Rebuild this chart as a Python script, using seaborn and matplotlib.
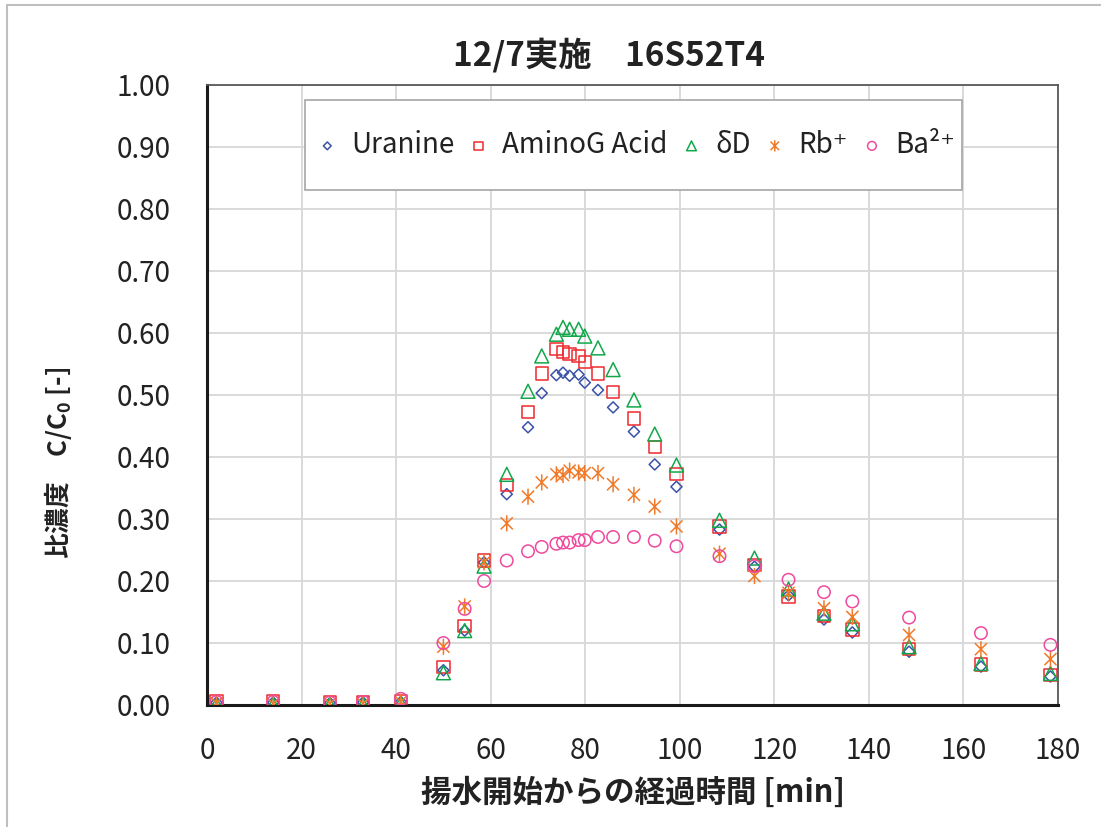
import numpy as np
import pandas as pd
import matplotlib
matplotlib.use("Agg")
import matplotlib.pyplot as plt
from matplotlib.path import Path
from matplotlib.patches import Rectangle
from matplotlib.ticker import MultipleLocator, FormatStrFormatter
import seaborn as sns

# elapsed pumping time [min]
time_min = [2, 14, 26, 33, 41, 50, 54.5, 58.6, 63.4, 67.9, 70.8, 73.9, 75.3, 76.7,
            78.6, 79.9, 82.7, 85.9, 90.3, 94.7, 99.3, 108.4, 115.8, 123.0, 130.5,
            136.5, 148.5, 163.7, 178.4]

# relative concentration C/C0 of each tracer
uranine = [0.004, 0.004, 0.003, 0.004, 0.005, 0.056, 0.120, 0.230, 0.340, 0.448,
           0.503, 0.532, 0.536, 0.531, 0.533, 0.520, 0.508, 0.480, 0.441, 0.388,
           0.352, 0.283, 0.223, 0.177, 0.138, 0.117, 0.086, 0.062, 0.046]
amino_g = [0.006, 0.006, 0.005, 0.005, 0.006, 0.061, 0.127, 0.233, 0.355, 0.473,
           0.535, 0.574, 0.569, 0.566, 0.563, 0.553, 0.535, 0.505, 0.462, 0.416,
           0.373, 0.288, 0.226, 0.175, 0.144, 0.122, 0.090, 0.065, 0.048]
delta_d = [0.001, 0.001, 0.001, 0.001, 0.003, 0.052, 0.120, 0.224, 0.372, 0.506,
           0.563, 0.598, 0.609, 0.606, 0.606, 0.595, 0.576, 0.541, 0.492, 0.437,
           0.387, 0.298, 0.237, 0.187, 0.148, 0.131, 0.094, 0.067, 0.051]
rb = [0.003, 0.002, 0.002, 0.002, 0.005, 0.094, 0.159, 0.230, 0.293, 0.336,
      0.359, 0.372, 0.371, 0.378, 0.375, 0.374, 0.374, 0.356, 0.339, 0.320,
      0.288, 0.244, 0.208, 0.181, 0.156, 0.142, 0.113, 0.090, 0.074]
ba = [0.005, 0.005, 0.004, 0.005, 0.010, 0.100, 0.155, 0.200, 0.233, 0.248,
      0.255, 0.260, 0.262, 0.262, 0.266, 0.266, 0.271, 0.271, 0.271, 0.265,
      0.256, 0.240, 0.224, 0.202, 0.182, 0.167, 0.141, 0.116, 0.097]

series_names = ["Uranine", "AminoG Acid", "δD", "Rb⁺", "Ba²⁺"]
series_values = [uranine, amino_g, delta_d, rb, ba]

title_text = "12/7実施　16S52T4"
xlabel_text = "揚水開始からの経過時間 [min]"
ylabel_text = r"比濃度　C/C$_\mathbf{0}$ [-]"

# long-format table for seaborn
df = pd.concat(
    [pd.DataFrame({"time": time_min, "ratio": vals, "tracer": name})
     for name, vals in zip(series_names, series_values)],
    ignore_index=True,
)

sns.set_style("white")
plt.rcParams["font.family"] = ["Noto Sans CJK JP", "DejaVu Sans"]
plt.rcParams["mathtext.fontset"] = "custom"
plt.rcParams["mathtext.rm"] = "Noto Sans CJK JP"
plt.rcParams["mathtext.bf"] = "Noto Sans CJK JP:bold"

# asterisk marker: vertical bar plus an X
star = Path([(0, -1), (0, 1), (-0.75, -0.75), (0.75, 0.75), (-0.75, 0.75), (0.75, -0.75)],
            [Path.MOVETO, Path.LINETO, Path.MOVETO, Path.LINETO, Path.MOVETO, Path.LINETO])

styles = {
    "Uranine": dict(color="#3A52A8", marker="D", s=32),
    "AminoG Acid": dict(color="#EE2A2E", marker="s", s=80),
    "δD": dict(color="#12A84A", marker="^", s=100),
    "Rb⁺": dict(color="#F07A2A", marker=star, s=135),
    "Ba²⁺": dict(color="#EE4A9E", marker="o", s=80),
}

fig = plt.figure(figsize=(11.01, 8.27), dpi=100)
ax = fig.add_axes([207 / 1101, 1 - 705 / 827, 851 / 1101, 620 / 827])

for name in series_names:
    st = styles[name]
    sub = df[df["tracer"] == name]
    sns.scatterplot(data=sub, x="time", y="ratio", ax=ax, label=name,
                    marker=st["marker"], s=st["s"], color=st["color"],
                    facecolor="none", edgecolor=st["color"], linewidth=1.1,
                    zorder=3)

ax.set_xlim(0, 180)
ax.set_ylim(0, 1.0)
ax.xaxis.set_major_locator(MultipleLocator(20))
ax.xaxis.set_minor_locator(MultipleLocator(5))
ax.yaxis.set_major_locator(MultipleLocator(0.1))
ax.yaxis.set_minor_locator(MultipleLocator(0.02))
ax.yaxis.set_major_formatter(FormatStrFormatter("%.2f"))
ax.grid(True, which="major", color="#D9D9D9", linewidth=1.4, zorder=0)
ax.set_axisbelow(True)
ax.tick_params(axis="both", which="both", direction="in", length=6, width=1.2,
               color="#333333", labelsize=20, labelcolor="#222222")
ax.tick_params(axis="x", which="both", pad=22)
ax.tick_params(axis="y", which="both", pad=26)
ax.tick_params(axis="both", which="both", top=False, right=False)
ax.set_xlabel("")
ax.set_ylabel("")

for side in ("left", "bottom"):
    ax.spines[side].set_color("#1A1A1A")
    ax.spines[side].set_linewidth(2.2)
for side in ("top", "right"):
    ax.spines[side].set_color("#595959")
    ax.spines[side].set_linewidth(1.3)

# legend box drawn separately so its padding can differ per direction
ax.add_patch(Rectangle((0.115, 0.831), 0.772, 0.145, transform=ax.transAxes,
                       facecolor="white", edgecolor="#A6A6A6", linewidth=1.2,
                       zorder=4))
leg = ax.legend(loc="center", bbox_to_anchor=(0.5055, 0.903), ncol=5,
                fontsize=20, frameon=False, handlelength=0.6,
                handletextpad=0.55, columnspacing=0.57, markerscale=0.7,
                borderpad=0.2, borderaxespad=0)
leg.set_zorder(5)
for txt in leg.get_texts():
    txt.set_color("#222222")

fig.text(609 / 1101, 1 - 55 / 827, title_text, ha="center", va="center",
         fontsize=24, fontweight="bold", color="#222222")
fig.text(633 / 1101, 1 - 793 / 827, xlabel_text, ha="center", va="center",
         fontsize=22, fontweight="bold", color="#222222")
fig.text(58 / 1101, 1 - 463 / 827, ylabel_text, ha="center", va="center",
         rotation=90, fontsize=18.5, fontweight="bold", color="#222222")

# chart-area outline
fig.patches.append(Rectangle((7 / 1101, -0.02), 1.02, 1 - 5 / 827 + 0.02,
                             transform=fig.transFigure, fill=False,
                             edgecolor="#BFBFBF", linewidth=1.5))

fig.savefig("out.png", dpi=100)
